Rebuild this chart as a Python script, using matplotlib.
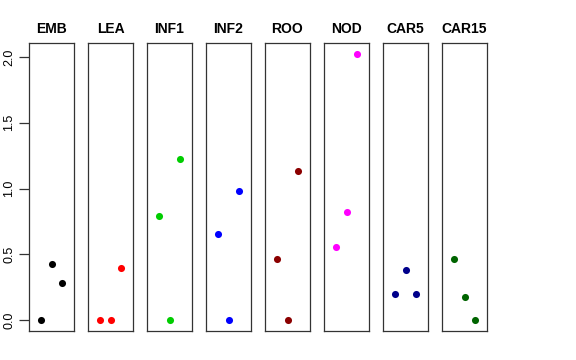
import matplotlib
matplotlib.use("Agg")
import matplotlib.pyplot as plt

plt.rcParams['font.family'] = ['Liberation Sans', 'DejaVu Sans']

# data: three samples per tissue
tissues = ["EMB", "LEA", "INF1", "INF2", "ROO", "NOD", "CAR5", "CAR15"]
colors = ["black", "red", "#00CD00", "blue", "#8B0000", "magenta", "#00008B", "#006400"]
values = {
    "EMB":   [0.0, 0.427, 0.283],
    "LEA":   [0.0, 0.0, 0.398],
    "INF1":  [0.791, 0.0, 1.222],
    "INF2":  [0.656, 0.0, 0.981],
    "ROO":   [0.464, 0.0, 1.131],
    "NOD":   [0.557, 0.819, 2.025],
    "CAR5":  [0.203, 0.385, 0.200],
    "CAR15": [0.466, 0.177, 0.0],
}
yticks = [0.0, 0.5, 1.0, 1.5, 2.0]

W, H = 576, 360
fig = plt.figure(figsize=(W / 100, H / 100), dpi=100)

ymax = max(max(v) for v in values.values())
pad = 0.04 * ymax

for i, (name, col) in enumerate(zip(tissues, colors)):
    left = 29 + i * 59
    ax = fig.add_axes([left / W, 1 - 331 / H, 45 / W, 288 / H])
    ax.scatter([1, 2, 3], values[name], s=26, color=col, linewidths=0, zorder=3)
    ax.set_xlim(-0.16, 4.16)
    ax.set_ylim(-pad, ymax + pad)
    ax.set_xticks([])
    for sp in ax.spines.values():
        sp.set_linewidth(0.9)
        sp.set_color("#333333")
    ax.set_title(name, fontsize=10, fontweight="bold", pad=7)
    if i == 0:
        ax.set_yticks(yticks)
        ax.set_yticklabels([f"{t:.1f}" for t in yticks], rotation=90,
                           va="center", fontsize=9)
        ax.tick_params(axis="y", length=7, width=0.9, color="#333333", pad=3)
    else:
        ax.set_yticks([])

fig.savefig("out.png", dpi=100)
